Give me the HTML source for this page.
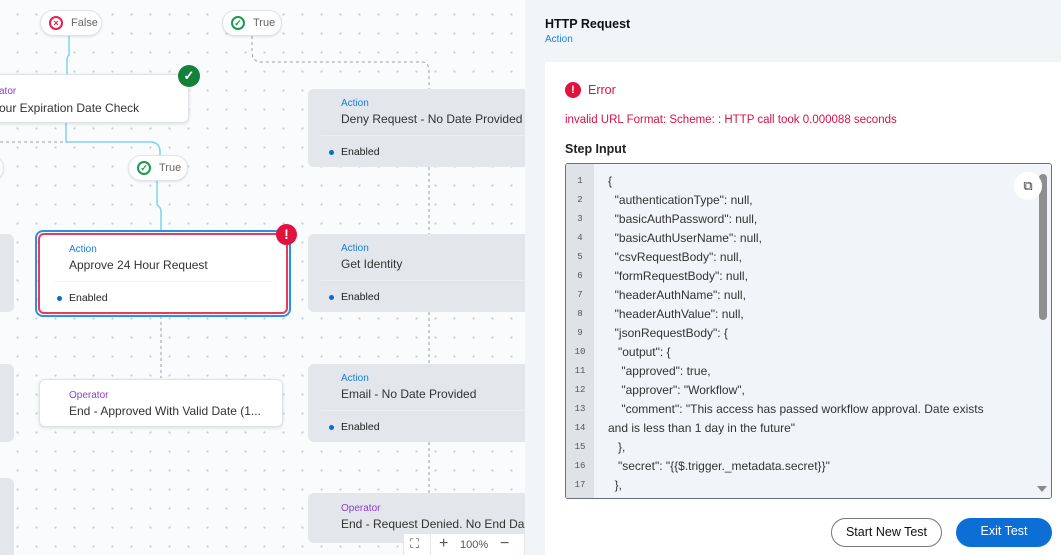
<!DOCTYPE html>
<html><head><meta charset="utf-8"><style>
*{box-sizing:border-box;margin:0;padding:0}
body{width:1061px;height:555px;overflow:hidden;position:relative;font-family:"Liberation Sans",sans-serif;background:#fff}
#cv{position:absolute;left:0;top:0;width:525px;height:555px;overflow:hidden;background-color:#fafbfc;background-image:radial-gradient(circle,#c9ced4 1px,transparent 1.3px);background-size:19px 19px;background-position:8px 5px}
.n{position:absolute;border-radius:6px;font-size:12px;color:#333;white-space:nowrap}
.g{background:#e3e6ea}
.w{background:#fff;border:1px solid #dfe2e6;box-shadow:0 1px 3px rgba(0,0,0,.12)}
.t{position:absolute;font-size:10px}
.a{color:#1a7fd8}.o{color:#8a3fd1}
.en{position:absolute;font-size:10.5px;color:#222}
.en:before{content:"";position:absolute;left:-12px;top:4px;width:5px;height:5px;border-radius:50%;background:#0b6bd3}
.sep{position:absolute;height:1px;background:#f3f4f6}
.pill{position:absolute;height:26px;background:#fff;border:1px solid #e0e3e6;border-radius:13px;box-shadow:0 1px 2px rgba(0,0,0,.1);font-size:11px;color:#666;line-height:24px;padding-left:30px}
.pill i{position:absolute;left:8px;top:5px;width:14px;height:14px;border-radius:50%;border:2px solid;font-style:normal;font-size:9px;line-height:10px;text-align:center;font-weight:bold}
#rp{position:absolute;left:525px;top:0;width:536px;height:555px;background:#f2f5f8}
#card{position:absolute;left:20px;top:62px;width:516px;height:493px;background:#fff}
#code{position:absolute;left:20px;top:101px;width:487px;height:336px;border:1px solid #6b7078;border-radius:3px;background:#f1f4f8;overflow:hidden}
#gut{position:absolute;left:0;top:0;width:28px;height:100%;background:#dfe3e8}
.ln{position:absolute;left:0;width:28px;text-align:center;font-size:9px;color:#555;font-family:"Liberation Mono",monospace}
.cl{position:absolute;left:42px;font-size:12px;color:#333;white-space:pre}
.btn{position:absolute;height:29px;border-radius:15px;font-size:12.5px;text-align:center;line-height:27px}
</style></head><body>
<div id="cv">
<svg width="525" height="555" style="position:absolute;left:0;top:0">
<g fill="none" stroke="#7fd3ee" stroke-width="1.5">
<path d="M69 36 V55 Q67 57 67 60 V75"/>
<path d="M66 122 V142 H150 Q160 142 160 152 V155"/>
<path d="M157 181 V205 Q161 207 161 212 V231"/>
</g>
<g fill="none" stroke="#9aa0a6" stroke-width="1" stroke-dasharray="3,3">
<path d="M0 142 H66"/>
<path d="M252 36 V52 Q252 62 262 62 H422 Q429 62 429 72 V89"/>
<path d="M429 167 V234 M429 312 V364 M429 442 V493"/>
<path d="M161 316 V378"/>
</g>
</svg>
<div class="pill" style="left:40px;top:10px;width:62px"><i style="border-color:#e0234e;color:#e0234e">×</i>False</div>
<div class="pill" style="left:222px;top:10px;width:60px"><i style="border-color:#1a9b4b;color:#1a9b4b">✓</i>True</div>
<div class="pill" style="left:128px;top:155px;width:60px"><i style="border-color:#1a9b4b;color:#1a9b4b">✓</i>True</div>
<div class="pill" style="left:-30px;top:155px;width:34px"></div>
<div class="n w" style="left:-20px;top:74px;width:209px;height:49px"><span class="t o" style="left:18px;top:11px">ator</span><span style="position:absolute;left:18px;top:26px">our Expiration Date Check</span></div>
<div style="position:absolute;left:178px;top:65px;width:22px;height:22px;border-radius:50%;background:#12823b;color:#fff;text-align:center;font-size:13px;line-height:22px;font-weight:bold">✓</div>
<div class="n g" style="left:-10px;top:234px;width:24px;height:78px"></div>
<div class="n g" style="left:-10px;top:364px;width:24px;height:78px"></div>
<div class="n g" style="left:-10px;top:478px;width:24px;height:90px"></div>
<div class="n" style="left:35px;top:230px;width:256px;height:87px;border:2px solid #2e8de6;border-radius:8px"></div>
<div class="n" style="left:38px;top:233px;width:250px;height:81px;border:2px solid #e33c5c;background:#fff;border-radius:6px">
<span class="t a" style="left:29px;top:9px">Action</span><span style="position:absolute;left:29px;top:23px">Approve 24 Hour Request</span>
<div class="sep" style="left:13px;right:13px;top:46px"></div><span class="en" style="left:29px;top:57px">Enabled</span></div>
<div style="position:absolute;left:276px;top:224px;width:21px;height:21px;border-radius:50%;background:#e0123e;color:#fff;text-align:center;font-size:14px;line-height:21px;font-weight:bold">!</div>
<div class="n w" style="left:39px;top:379px;width:244px;height:48px"><span class="t o" style="left:29px;top:10px">Operator</span><span style="position:absolute;left:29px;top:24px">End - Approved With Valid Date (1...</span></div>
<div class="n g" style="left:308px;top:89px;width:230px;height:78px"><span class="t a" style="left:33px;top:9px">Action</span><span style="position:absolute;left:33px;top:23px">Deny Request - No Date Provided</span><div class="sep" style="left:13px;right:0;top:46px;background:#eceef1"></div><span class="en" style="left:33px;top:57px">Enabled</span></div>
<div class="n g" style="left:308px;top:234px;width:230px;height:78px"><span class="t a" style="left:33px;top:9px">Action</span><span style="position:absolute;left:33px;top:23px">Get Identity</span><div class="sep" style="left:13px;right:0;top:46px;background:#eceef1"></div><span class="en" style="left:33px;top:57px">Enabled</span></div>
<div class="n g" style="left:308px;top:364px;width:230px;height:78px"><span class="t a" style="left:33px;top:9px">Action</span><span style="position:absolute;left:33px;top:23px">Email - No Date Provided</span><div class="sep" style="left:13px;right:0;top:46px;background:#eceef1"></div><span class="en" style="left:33px;top:57px">Enabled</span></div>
<div class="n g" style="left:308px;top:493px;width:230px;height:50px"><span class="t o" style="left:33px;top:10px">Operator</span><span style="position:absolute;left:33px;top:24px">End - Request Denied. No End Da...</span></div>
<div style="position:absolute;left:403px;top:533px;width:122px;height:24px;background:#fff;border:1px solid #e2e4e7;font-size:12px;color:#555">
<span style="position:absolute;left:6px;top:2px;font-size:13px">⛶</span><div style="position:absolute;left:26px;top:0;width:1px;height:24px;background:#e2e4e7"></div>
<span style="position:absolute;left:35px;top:1px;font-size:16px">+</span><span style="position:absolute;left:56px;top:5px;font-size:11px">100%</span><span style="position:absolute;left:96px;top:1px;font-size:16px">−</span></div>
</div>
<div id="rp">
<div style="position:absolute;left:20px;top:17px;font-size:12.5px;font-weight:bold;color:#111">HTTP Request</div>
<div style="position:absolute;left:20px;top:34px;font-size:10px;color:#1a7fd8">Action</div>
<div id="card">
<div style="position:absolute;left:20px;top:20px;width:16px;height:16px;border-radius:50%;background:#e0123e;color:#fff;text-align:center;font-size:11px;line-height:16px;font-weight:bold">!</div>
<div style="position:absolute;left:43px;top:21px;font-size:12.5px;color:#e0123e">Error</div>
<div style="position:absolute;left:20px;top:52px;font-size:11.5px;color:#d4124a">invalid URL Format: Scheme: : HTTP call took 0.000088 seconds</div>
<div style="position:absolute;left:20px;top:80px;font-size:12.5px;font-weight:bold;color:#222">Step Input</div>
<div id="code"><div id="gut"></div>
<div class="ln" style="top:12px">1</div><div class="cl" style="top:10px">{</div>
<div class="ln" style="top:31px">2</div><div class="cl" style="top:29px">  "authenticationType": null,</div>
<div class="ln" style="top:50px">3</div><div class="cl" style="top:48px">  "basicAuthPassword": null,</div>
<div class="ln" style="top:69px">4</div><div class="cl" style="top:67px">  "basicAuthUserName": null,</div>
<div class="ln" style="top:88px">5</div><div class="cl" style="top:86px">  "csvRequestBody": null,</div>
<div class="ln" style="top:107px">6</div><div class="cl" style="top:105px">  "formRequestBody": null,</div>
<div class="ln" style="top:126px">7</div><div class="cl" style="top:124px">  "headerAuthName": null,</div>
<div class="ln" style="top:145px">8</div><div class="cl" style="top:143px">  "headerAuthValue": null,</div>
<div class="ln" style="top:164px">9</div><div class="cl" style="top:162px">  "jsonRequestBody": {</div>
<div class="ln" style="top:183px">10</div><div class="cl" style="top:181px">   "output": {</div>
<div class="ln" style="top:202px">11</div><div class="cl" style="top:200px">    "approved": true,</div>
<div class="ln" style="top:221px">12</div><div class="cl" style="top:219px">    "approver": "Workflow",</div>
<div class="ln" style="top:240px">13</div><div class="cl" style="top:238px">    "comment": "This access has passed workflow approval. Date exists</div>
<div class="ln" style="top:259px">14</div><div class="cl" style="top:257px">and is less than 1 day in the future"</div>
<div class="ln" style="top:278px">15</div><div class="cl" style="top:276px">   },</div>
<div class="ln" style="top:297px">16</div><div class="cl" style="top:295px">   "secret": "{{$.trigger._metadata.secret}}"</div>
<div class="ln" style="top:316px">17</div><div class="cl" style="top:314px">  },</div>
<div style="position:absolute;right:0;top:0;width:15px;height:100%;background:#f1f4f8"></div>
<div style="position:absolute;right:4px;top:10px;width:8px;height:146px;border-radius:4px;background:#8e8e8e"></div>
<div style="position:absolute;right:4px;top:322px;width:0;height:0;border-left:5px solid transparent;border-right:5px solid transparent;border-top:6px solid #888"></div>
<div style="position:absolute;right:9px;top:8px;width:28px;height:28px;border-radius:50%;background:#fff;text-align:center;line-height:28px;font-size:13px;color:#333">⧉</div>
</div>
<div class="btn" style="left:286px;top:456px;width:111px;border:1px solid #777;color:#111">Start New Test</div>
<div class="btn" style="left:411px;top:456px;width:96px;background:#0b6fd6;color:#fff">Exit Test</div>
</div>
</div>
</body></html>
